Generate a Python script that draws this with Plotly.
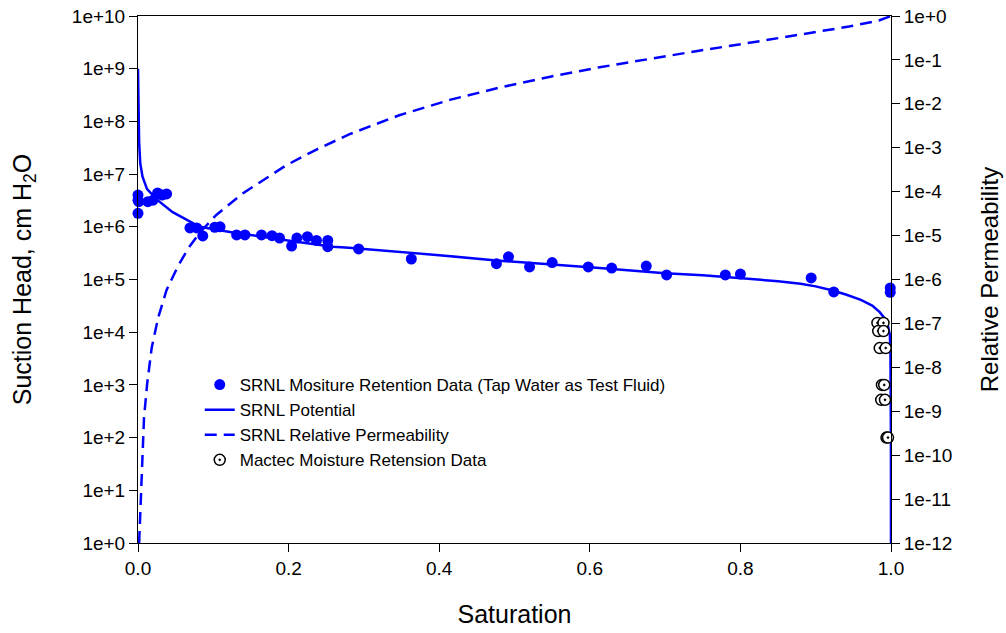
import plotly.graph_objects as go

# SRNL moisture retention data (saturation, suction head cm H2O)
srnl_sat = [0.000, 0.000, 0.000, 0.001, 0.013, 0.020, 0.026, 0.032, 0.038,
            0.069, 0.078, 0.086, 0.102, 0.109, 0.131, 0.142, 0.164, 0.178,
            0.188, 0.204, 0.211, 0.225, 0.237, 0.252, 0.252, 0.293, 0.363,
            0.476, 0.492, 0.520, 0.550, 0.598, 0.629, 0.675, 0.702, 0.780,
            0.800, 0.894, 0.924, 0.999, 0.999]
srnl_head = [4.0e6, 3.2e6, 1.8e6, 3.0e6, 3.0e6, 3.2e6, 4.4e6, 4.0e6, 4.2e6,
             9.5e5, 9.5e5, 6.7e5, 9.8e5, 1.0e6, 7.0e5, 7.0e5, 7.0e5, 6.8e5,
             6.1e5, 4.3e5, 6.1e5, 6.5e5, 5.5e5, 5.5e5, 4.2e5, 3.8e5, 2.45e5,
             2.0e5, 2.7e5, 1.73e5, 2.1e5, 1.73e5, 1.65e5, 1.8e5, 1.22e5, 1.22e5,
             1.27e5, 1.07e5, 5.8e4, 6.9e4, 5.7e4]

# SRNL potential curve
pot_sat = [0.0, 0.0005, 0.0015, 0.003, 0.006, 0.012, 0.026, 0.046, 0.082,
           0.126, 0.171, 0.215, 0.259, 0.28, 0.40, 0.476, 0.613, 0.70, 0.75,
           0.80, 0.85, 0.88, 0.90, 0.92, 0.94, 0.96, 0.975, 0.985, 0.992,
           0.996, 0.9985, 0.9993, 0.9997, 0.9999, 1.0]
pot_head = [1e9, 2.0e8, 4.0e7, 1.6e7, 8.9e6, 5.2e6, 3.2e6, 1.9e6, 1.0e6,
            7.8e5, 6.2e5, 5.1e5, 4.2e5, 4.0e5, 2.9e5, 2.3e5, 1.66e5, 1.32e5,
            1.2e5, 1.07e5, 9.3e4, 8.3e4, 7.4e4, 6.3e4, 5.2e4, 4.1e4, 3.2e4,
            2.4e4, 1.8e4, 1.3e4, 8.9e3, 4.0e3, 1.0e3, 1.0e2, 1.0]

# SRNL relative permeability curve
kr_sat = [0.0015, 0.0027, 0.004, 0.0057, 0.008, 0.0123, 0.0182, 0.027, 0.038,
          0.053, 0.067, 0.082, 0.104, 0.139, 0.197, 0.237, 0.281, 0.347, 0.414,
          0.48, 0.546, 0.613, 0.679, 0.745, 0.812, 0.878, 0.944, 0.984, 1.0]
kr_val = [1.0e-12, 3.9e-12, 2.3e-11, 1.3e-10, 7.2e-10, 4.4e-9, 2.8e-8, 1.4e-7,
          5.8e-7, 2.0e-6, 5.2e-6, 1.17e-5, 2.95e-5, 9.1e-5, 4.0e-4, 9.1e-4,
          2.04e-3, 5.5e-3, 1.23e-2, 2.34e-2, 4.1e-2, 6.8e-2, 0.107, 0.162,
          0.245, 0.37, 0.575, 0.79, 1.0]

# Mactec moisture retention data
mac_sat = [0.982, 0.990, 0.983, 0.990, 0.985, 0.993, 0.988, 0.991, 0.987,
           0.992, 0.994, 0.996]
mac_head = [1.5e4, 1.5e4, 1.05e4, 1.05e4, 5.0e3, 5.0e3, 1.0e3, 1.0e3, 5.2e2,
            5.2e2, 1.0e2, 1.0e2]

x_ticks = [0.0, 0.2, 0.4, 0.6, 0.8, 1.0]
y_ticks = [10 ** i for i in range(0, 11)]
y_labels = ["1e+%d" % i for i in range(0, 11)]
y2_ticks = [10 ** -i for i in range(0, 13)]
y2_labels = ["1e+0"] + ["1e-%d" % i for i in range(1, 13)]

blue = "#0000FF"
font = "Liberation Sans, Arial, sans-serif"

fig = go.Figure()
fig.add_trace(go.Scatter(
    x=srnl_sat, y=srnl_head, mode="markers", cliponaxis=False,
    name="SRNL Mositure Retention Data (Tap Water as Test Fluid)",
    marker=dict(color=blue, size=11, line=dict(width=0))))
fig.add_trace(go.Scatter(
    x=pot_sat, y=pot_head, mode="lines", name="SRNL Potential",
    line=dict(color=blue, width=2.5)))
fig.add_trace(go.Scatter(
    x=kr_sat, y=kr_val, mode="lines", name="SRNL Relative Permeability",
    yaxis="y2", line=dict(color=blue, width=2.5, dash="12px,7px")))
fig.add_trace(go.Scatter(
    x=mac_sat, y=mac_head, mode="markers", cliponaxis=False,
    name="Mactec Moisture Retension Data",
    marker=dict(symbol="circle-dot", color="white", size=11,
                line=dict(color="black", width=1.5))))

axis_common = dict(showgrid=False, zeroline=False, showline=True,
                   linecolor="black", linewidth=1, ticks="outside",
                   ticklen=8, tickcolor="black", automargin=False,
                   tickfont=dict(size=19, color="black", family=font))

fig.update_layout(
    width=1006, height=633,
    margin=dict(l=138, r=115, t=16, b=90),
    paper_bgcolor="white", plot_bgcolor="white",
    font=dict(family=font, color="black"),
    xaxis=dict(range=[0, 1], tickvals=x_ticks, tickformat=".1f", mirror=True,
               title=dict(text="Saturation", font=dict(size=25), standoff=27),
               **axis_common),
    yaxis=dict(type="log", range=[0, 10], tickvals=y_ticks, ticktext=y_labels,
               title=dict(text="Suction Head, cm H<sub>2</sub>O",
                          font=dict(size=25), standoff=33),
               **axis_common),
    yaxis2=dict(type="log", range=[-12, 0], tickvals=y2_ticks,
                ticktext=y2_labels, overlaying="y", side="right",
                title=dict(text="Relative Permeability", font=dict(size=24),
                           standoff=29),
                **axis_common),
    legend=dict(x=0.082, y=0.334, xanchor="left", yanchor="top",
                bgcolor="rgba(0,0,0,0)", font=dict(size=17, color="black"),
                tracegroupgap=0),
    showlegend=True,
)

fig.write_html("out.html", config={"displayModeBar": False},
               post_script="document.body.style.margin='0';")
